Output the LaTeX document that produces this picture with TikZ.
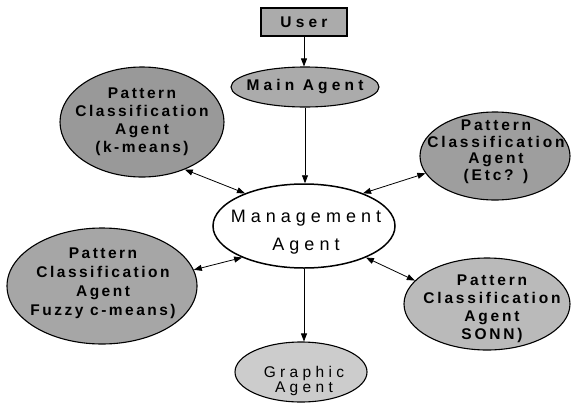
\documentclass[tikz,border=0pt]{standalone}
\usepackage{fontspec}
\setmainfont{Liberation Sans}
\usetikzlibrary{shapes.geometric,arrows.meta}
\begin{document}
\begin{tikzpicture}[x=1pt,y=-1pt,
  tip/.tip={Triangle[length=8pt,width=6pt]},
  agentshape/.style={ellipse,draw=black,line width=1.1pt,inner sep=0pt},
  agenttext/.style={align=center,inner sep=0pt,
    font=\fontsize{15.5}{18}\selectfont\bfseries\addfontfeature{LetterSpace=16}},
  link/.style={line width=0.8pt,-tip},
  dlink/.style={line width=0.8pt,tip-tip}]
\useasboundingbox (0,0) rectangle (573,405);

% user box and main agent
\node[draw=black,line width=1.1pt,fill=black!33,minimum width=86pt,minimum height=28pt,inner sep=0pt,
      font=\fontsize{15.5}{15}\selectfont\bfseries\addfontfeature{LetterSpace=27}] (user) at (304,22) {User};
\node[agentshape,fill=black!33,minimum width=148pt,minimum height=40pt] (main) at (305,87) {};
\node[agenttext,font=\fontsize{15.5}{18}\selectfont\bfseries\addfontfeature{LetterSpace=27}] (maint) at (main.center) {Main Agent};

% management agent
\node[agentshape,fill=white,line width=1.5pt,minimum width=182pt,minimum height=84pt] (mgmt) at (304,226) {};
\node[align=center,inner sep=0pt,
      font=\fontsize{18}{28}\selectfont\addfontfeature{LetterSpace=28}] (mgmtt) at (306,232) {Management\\Agent};

% pattern classification agents
\node[agentshape,fill=black!40,minimum width=164pt,minimum height=110pt] (kmeans) at (142,122) {};
\node[agenttext] (kmeanst) at (kmeans.center) {Pattern\\Classification\\Agent\\(k-means)};

\node[agentshape,fill=black!38,minimum width=150pt,minimum height=88pt] (etc) at (495,156) {};
\node[agenttext,font=\fontsize{15.5}{16.5}\selectfont\bfseries\addfontfeature{LetterSpace=18}] (etct) at (496,152) {Pattern\\Classification\\Agent\\(Etc? )};

\node[agentshape,fill=black!35,minimum width=190pt,minimum height=116pt] (fuzzy) at (102,286) {};
\node[agenttext,font=\fontsize{15.5}{19}\selectfont\bfseries\addfontfeature{LetterSpace=16}] (fuzzyt) at (103,283) {Pattern\\Classification\\Agent\\Fuzzy c-means)};

\node[agentshape,fill=black!27,minimum width=166pt,minimum height=92pt] (sonn) at (487,304) {};
\node[agenttext,font=\fontsize{15.5}{18}\selectfont\bfseries\addfontfeature{LetterSpace=18}] (sonnt) at (492,309) {Pattern\\Classification\\Agent\\SONN)};

% graphic agent
\node[agentshape,fill=black!20,minimum width=132pt,minimum height=60pt] (graphic) at (301,372) {};
\node[align=center,inner sep=0pt,
      font=\fontsize{15.5}{15}\selectfont\addfontfeature{LetterSpace=28}] (graphict) at (304,381) {Graphic\\Agent};

% connectors
\draw[link] (user.south) -- (user.south |- main.north);
\draw[link] (main.south) -- (main.south |- mgmt.north);
\draw[link] (mgmt.south) -- (mgmt.south |- graphic.north);
\draw[dlink] (kmeans.-48) -- (mgmt.151);
\draw[dlink] (mgmt.29) -- (etc.-166);
\draw[dlink] (fuzzy.10) -- (mgmt.207);
\draw[dlink] (mgmt.-27) -- (sonn.162);
\end{tikzpicture}
\end{document}
